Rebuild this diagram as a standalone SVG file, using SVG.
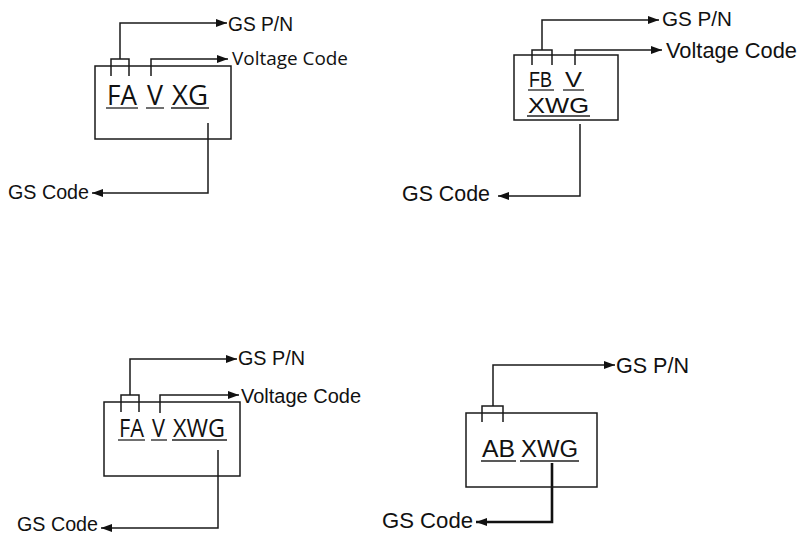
<svg xmlns="http://www.w3.org/2000/svg" width="798" height="536" viewBox="0 0 798 536">
<style>
.box{fill:none;stroke:#1a1a1a;stroke-width:1.5}
.ln{fill:none;stroke:#1a1a1a;stroke-width:1.5}
.thick{fill:none;stroke:#111;stroke-width:2.6}
.ul{stroke:#222;stroke-width:1.3}
.lbl{font-family:"Liberation Sans",Arial,sans-serif;fill:#111}
.seg{font-family:"Open Sans","Noto Sans",sans-serif;fill:#111}
</style>
<defs>
<marker id="arr" markerUnits="userSpaceOnUse" markerWidth="11" markerHeight="8" refX="11" refY="4" orient="auto">
<path d="M0,0 L11,4 L0,8 z" fill="#111"/>
</marker>
</defs>
<rect width="798" height="536" fill="#fff"/>

<g id="connectors">
<!-- panel 1 -->
<path class="ln" d="M111,76 V59 H129 V76"/>
<path class="ln" d="M120,59 V23 H227" marker-end="url(#arr)"/>
<path class="ln" d="M151,76 V59 H228" marker-end="url(#arr)"/>
<path class="ln" d="M208,123 V193 H92" marker-end="url(#arr)"/>
<!-- panel 2 -->
<path class="ln" d="M532,65 V50 H552 V65"/>
<path class="ln" d="M542,50 V20 H659" marker-end="url(#arr)"/>
<path class="ln" d="M575,65 V50 H662" marker-end="url(#arr)"/>
<path class="ln" d="M580,124 V196 H498" marker-end="url(#arr)"/>
<!-- panel 3 -->
<path class="ln" d="M121,412 V395 H139 V412"/>
<path class="ln" d="M130,395 V359 H237" marker-end="url(#arr)"/>
<path class="ln" d="M160,413 V395 H239" marker-end="url(#arr)"/>
<path class="ln" d="M218,450 V528 H101" marker-end="url(#arr)"/>
<!-- panel 4 -->
<path class="ln" d="M482,422 V406 H503 V422"/>
<path class="ln" d="M493,406 V365 H615" marker-end="url(#arr)"/>
<path class="thick" d="M552,463 V522 H476" marker-end="url(#arr)"/>
</g>

<g id="box1">
<rect class="box" x="95" y="66" width="136" height="73"/>
<text class="seg" font-size="28" y="105"><tspan x="107" textLength="30" lengthAdjust="spacingAndGlyphs">FA</tspan><tspan x="147" textLength="16" lengthAdjust="spacingAndGlyphs">V</tspan><tspan x="172" textLength="36" lengthAdjust="spacingAndGlyphs">XG</tspan></text>
<line class="ul" x1="106" y1="108" x2="138" y2="108"/>
<line class="ul" x1="146" y1="108" x2="164" y2="108"/>
<line class="ul" x1="171" y1="108" x2="209" y2="108"/>
</g>
<g id="label1-pn"><text class="lbl" font-size="19.5" x="228" y="31" textLength="65" lengthAdjust="spacingAndGlyphs">GS P/N</text></g>
<g id="label1-volt"><text class="seg" font-size="19" x="232" y="65" textLength="116" lengthAdjust="spacingAndGlyphs">Voltage Code</text></g>
<g id="label1-code"><text class="lbl" font-size="21" x="8" y="199" textLength="81" lengthAdjust="spacingAndGlyphs">GS Code</text></g>

<g id="box2">
<rect class="box" x="514" y="55" width="104" height="65"/>
<text class="lbl" font-size="22" y="87"><tspan x="529" textLength="23" lengthAdjust="spacingAndGlyphs">FB</tspan><tspan x="565" textLength="17" lengthAdjust="spacingAndGlyphs">V</tspan></text>
<text class="lbl" font-size="22" x="528" y="113" textLength="61" lengthAdjust="spacingAndGlyphs">XWG</text>
<line class="ul" x1="528" y1="90" x2="554" y2="90"/>
<line class="ul" x1="563" y1="90" x2="584" y2="90"/>
<line class="ul" x1="527" y1="116" x2="590" y2="116"/>
</g>
<g id="label2-pn"><text class="lbl" font-size="20.5" x="662" y="26" textLength="70" lengthAdjust="spacingAndGlyphs">GS P/N</text></g>
<g id="label2-volt"><text class="lbl" font-size="21.5" x="666" y="58" textLength="131" lengthAdjust="spacingAndGlyphs">Voltage Code</text></g>
<g id="label2-code"><text class="lbl" font-size="21.5" x="402" y="201" textLength="88" lengthAdjust="spacingAndGlyphs">GS Code</text></g>

<g id="box3">
<rect class="box" x="104" y="402" width="136" height="74"/>
<text class="seg" font-size="26" y="437"><tspan x="119" textLength="25" lengthAdjust="spacingAndGlyphs">FA</tspan><tspan x="152" textLength="13" lengthAdjust="spacingAndGlyphs">V</tspan><tspan x="173" textLength="52" lengthAdjust="spacingAndGlyphs">XWG</tspan></text>
<line class="ul" x1="118" y1="440" x2="145" y2="440"/>
<line class="ul" x1="151" y1="440" x2="167" y2="440"/>
<line class="ul" x1="172" y1="440" x2="227" y2="440"/>
</g>
<g id="label3-pn"><text class="lbl" font-size="20" x="238" y="365" textLength="67" lengthAdjust="spacingAndGlyphs">GS P/N</text></g>
<g id="label3-volt"><text class="lbl" font-size="20" x="241" y="403" textLength="120" lengthAdjust="spacingAndGlyphs">Voltage Code</text></g>
<g id="label3-code"><text class="lbl" font-size="20" x="17" y="531" textLength="81" lengthAdjust="spacingAndGlyphs">GS Code</text></g>

<g id="box4">
<rect class="box" x="466" y="413" width="131" height="74"/>
<text class="lbl" font-size="23.5" y="457"><tspan x="482" textLength="33" lengthAdjust="spacingAndGlyphs">AB</tspan><tspan x="521" textLength="57" lengthAdjust="spacingAndGlyphs">XWG</tspan></text>
<line class="ul" x1="481" y1="461" x2="516" y2="461"/>
<line class="ul" x1="520" y1="461" x2="579" y2="461"/>
</g>
<g id="label4-pn"><text class="lbl" font-size="21.5" x="616" y="373" textLength="73" lengthAdjust="spacingAndGlyphs">GS P/N</text></g>
<g id="label4-code"><text class="lbl" font-size="22" x="382" y="528" textLength="91" lengthAdjust="spacingAndGlyphs">GS Code</text></g>
</svg>
